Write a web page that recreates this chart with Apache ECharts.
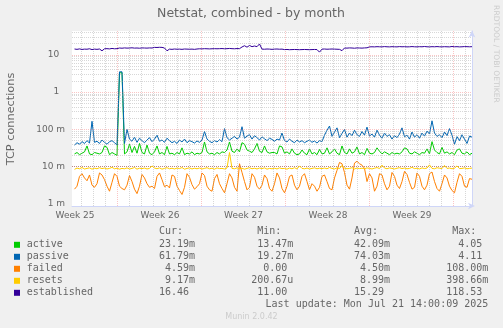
<!DOCTYPE html>
<html><head><meta charset="utf-8">
<script src="https://cdn.jsdelivr.net/npm/echarts@6/dist/echarts.min.js"></script>
<style>html,body{margin:0;padding:0;background:#f0f0f0}#c{width:503px;height:328px}</style>
</head><body><div id="c"></div>
<script>
// ---- time grid (hours relative to last update) ----
const hourStart = -795, hourStep = 5;
const weekLabels = ['Week 25', 'Week 26', 'Week 27', 'Week 28', 'Week 29'];
const weekLabelHours = [-794, -624, -457, -288, -120];
const weekGridHours = [-710, -542, -374, -206, -38];

// ---- y ticks ----
const yTickExp = [-3, -2, -1, 0, 1];
const yTickLabels = ['1 m', '10 m', '100 m', '1  ', '10  '];

// ---- series (milli-connections unless noted) ----
const activeMilli = [
22,24,21,23,25,36,22,21,24,23,
22,24,36,33,21,24,22,20,3300,3300,
22,25,40,24,35,23,42,24,22,38,
23,21,25,36,22,24,21,35,22,23,
21,24,22,32,21,23,22,25,21,23,
22,24,46,25,22,23,21,24,22,25,
24,28,46,26,24,30,25,44,40,28,
26,24,30,42,26,24,36,25,23,24,
24,22,36,34,23,25,22,30,23,21,
22,28,23,21,30,22,24,21,29,22,
23,32,22,25,30,23,21,36,24,22,
30,23,25,34,22,24,21,31,23,22,
24,32,26,22,25,23,21,24,22,23,
22,25,32,30,23,22,25,23,21,24,
23,30,22,47,28,24,22,33,23,25,
22,24,21,28,30,23,22,25,21,23];
const passiveMilli = [
38,44,40,47,42,50,43,165,45,48,
42,52,45,40,47,50,44,38,3500,3500,
42,100,55,48,62,45,58,50,44,52,
60,47,55,70,48,52,45,58,50,44,
48,42,52,46,55,44,50,47,43,49,
45,52,88,55,48,44,50,46,53,47,
105,60,52,58,65,55,62,118,58,66,
72,55,68,60,52,63,56,50,58,54,
48,55,52,80,50,46,55,48,44,52,
46,50,44,48,52,45,49,43,50,47,
70,95,123,65,85,110,60,78,100,62,
80,68,95,72,65,88,70,115,66,75,
62,95,70,58,80,65,72,55,68,60,
75,110,64,70,55,85,62,72,58,80,
66,90,75,170,80,65,72,60,85,68,
105,70,40,64,50,72,55,42,66,62];
const failedMilli = [
2.5,3.0,5.5,6.5,5.0,4.2,6.0,3.2,2.8,3.5,
6.8,6.0,4.5,3.0,2.2,3.8,6.5,5.5,3.0,2.6,
2.4,3.2,5.8,4.0,2.5,1.9,3.0,6.2,5.0,3.5,
2.8,3.0,2.6,5.5,6.8,4.5,2.9,3.2,2.7,6.0,
5.5,3.0,2.3,1.8,2.8,6.5,5.2,3.3,2.5,2.9,
3.5,6.8,5.8,3.0,2.4,2.2,4.8,6.2,3.5,2.6,
2.0,3.5,6.5,5.0,2.8,2.2,12.0,7.0,4.0,2.4,
2.8,6.5,5.2,3.0,2.5,3.2,6.0,4.8,2.6,2.2,
3.5,6.8,5.0,2.6,2.0,3.0,5.5,6.0,3.2,2.4,
3.0,5.5,6.5,4.0,2.4,3.5,3.0,2.2,2.8,5.5,
6.0,4.0,2.6,2.4,5.0,8.0,13.0,12.0,7.0,3.2,
2.5,5.0,12.5,14.0,12.0,11.0,9.0,4.0,6.5,5.0,
2.2,3.0,6.5,6.0,3.5,2.4,3.0,7.0,5.5,3.2,
2.6,4.0,7.5,6.2,3.8,2.5,2.8,6.8,5.5,3.0,
2.4,3.2,6.5,7.2,4.0,2.6,2.2,3.5,6.0,5.0,
3.0,2.3,2.0,3.8,6.5,5.5,3.0,2.8,4.8,4.6];
const resetsMilli = [
8.5,9.2,8.8,9.5,8.7,9.0,9.3,8.6,9.1,8.8,
9.4,8.9,9.2,8.7,9.0,9.6,8.8,9.1,8.6,9.0,
8.8,9.3,8.7,9.0,9.5,8.6,9.1,8.9,9.2,8.7,
9.0,10.5,9.2,8.8,9.3,8.6,9.0,9.4,8.8,9.1,
8.7,9.2,8.9,9.5,8.6,9.0,9.3,8.7,9.1,8.8,
9.2,8.7,9.0,9.4,8.8,9.1,8.6,9.3,8.9,9.0,
8.7,9.2,24,9.0,8.8,9.3,8.9,9.1,8.6,9.0,
9.4,8.8,9.1,8.7,9.2,8.9,9.3,8.6,9.0,8.8,
9.1,8.7,9.3,8.9,9.0,8.6,9.2,8.8,9.4,8.7,
10.5,9.0,8.8,9.2,8.7,9.0,9.3,8.8,9.1,8.9,
9.2,8.8,9.5,9.0,8.7,9.3,8.9,10.8,9.1,8.8,
9.0,9.4,8.7,9.2,8.9,9.1,8.8,9.3,9.0,8.7,
9.1,9.5,8.9,11.0,9.2,8.8,9.3,9.0,8.7,9.1,
9.4,8.9,9.2,8.8,9.0,9.6,8.9,9.1,8.7,9.3,
8.9,9.2,11.2,9.0,8.8,9.4,9.1,8.9,10.8,9.0,
9.2,8.8,9.1,10.5,8.9,9.0,9.3,8.8,9.0,9.2];
// established in connections
const established = [
14.3,14.0,14.4,13.9,14.2,14.1,14.5,13.8,14.2,14.0,
14.3,12.8,14.5,14.6,14.4,14.8,14.5,14.6,15.2,15.0,
15.3,15.1,15.2,15.4,15.1,15.2,15.0,15.3,15.2,15.1,
15.3,15.2,15.8,15.7,15.9,15.8,15.2,12.8,14.2,14.0,
14.3,14.1,14.2,14.0,14.3,14.2,14.1,14.2,14.0,14.3,
14.5,14.4,14.6,14.5,14.4,14.5,14.6,14.5,14.6,14.7,
14.5,14.6,14.8,14.6,14.5,14.7,14.6,16.2,17.5,16.0,
17.8,16.5,17.2,16.5,19.5,14.2,14.1,14.3,14.2,14.0,
14.2,14.3,14.1,14.2,13.8,13.9,13.7,13.8,13.9,13.8,
13.7,13.8,13.9,13.8,13.7,13.8,13.9,13.8,11.8,14.2,
14.3,14.1,14.2,14.3,14.2,14.1,14.0,12.9,15.2,15.1,
15.3,15.2,15.0,15.3,15.2,15.1,15.3,15.4,16.3,16.4,
16.3,16.5,16.4,16.3,16.6,16.4,16.3,16.5,16.4,16.3,
16.6,16.4,16.5,16.3,16.4,16.6,16.4,16.3,16.5,16.4,
16.7,16.4,16.3,16.5,16.4,16.6,16.4,16.3,16.5,16.4,
16.3,16.7,16.4,16.5,16.3,16.4,16.6,16.5,16.4,16.5];

// ---- legend table ----
const seriesNames = ['active', 'passive', 'failed', 'resets', 'established'];
const seriesColors = ['#00CC00', '#0066B3', '#FF8000', '#FFCC00', '#330099'];
const curText = ['23.19m', '61.79m', '4.59m', '9.17m', '16.46 '];
const minText = ['13.47m', '19.27m', '0.00 ', '200.67u', '11.00 '];
const avgText = ['42.09m', '74.03m', '4.50m', '8.99m', '15.29 '];
const maxText = ['4.05 ', '4.11 ', '108.00m', '398.66m', '118.53 '];
const lastUpdate = 'Last update: Mon Jul 21 14:00:09 2025';

const hours = activeMilli.map((_, i) => hourStart + i * hourStep);
const toData = (arr, k) => arr.map((v, i) => [hours[i], v * k]);
const seriesData = [
  toData(activeMilli, 0.001), toData(passiveMilli, 0.001), toData(failedMilli, 0.001),
  toData(resetsMilli, 0.001), toData(established, 1)
];

const yMin = 0.000884, yMax = 43.45;
const gridGray = {color: 'rgba(150,150,150,0.38)', type: [1, 1], width: 1};
const gridRed = {color: 'rgba(240,90,90,0.35)', type: [1, 1], width: 1};
const gridLines = [];
for (let k = -3; k <= 1; k++) {
  for (let m = 2; m <= 9; m++) {
    const v = m * Math.pow(10, k);
    if (v < yMax) gridLines.push({yAxis: v, lineStyle: gridGray});
  }
  gridLines.push({yAxis: Math.pow(10, k), lineStyle: gridRed});
}
for (let h = -782; h < 0; h += 24) {
  if (!weekGridHours.includes(h)) gridLines.push({xAxis: h, lineStyle: gridGray});
}
weekGridHours.forEach(h => gridLines.push({xAxis: h, lineStyle: gridRed}));

const mono = '"DejaVu Sans Mono", monospace';
const txtColor = '#666666';
const graphics = [];
graphics.push({type: 'text', x: 251, y: 13.5, style: {text: 'Netstat, combined - by month', font: '12.5px "DejaVu Sans"', fill: txtColor, textAlign: 'center', textVerticalAlign: 'middle'}});
graphics.push({type: 'text', x: 11, y: 119, rotation: Math.PI / 2, style: {text: 'TCP connections', font: '11.3px "DejaVu Sans"', fill: txtColor, textAlign: 'center', textVerticalAlign: 'middle'}});
graphics.push({type: 'text', x: 496, y: 54, rotation: -Math.PI / 2, style: {text: 'RRDTOOL / TOBI OETIKER', font: '7.6px "DejaVu Sans"', fill: '#cccccc', textAlign: 'center', textVerticalAlign: 'middle'}});
const colEnds = [195, 293.3, 390, 488.3];
const heads = ['Cur:', 'Min:', 'Avg:', 'Max:'];
heads.forEach((h, j) => graphics.push({type: 'text', x: colEnds[j] - 12, y: 231.7, style: {text: h, font: '10px ' + mono, fill: txtColor, textAlign: 'right', textVerticalAlign: 'middle'}}));
seriesNames.forEach((n, i) => {
  const y = 244.3 + 12 * i;
  graphics.push({type: 'rect', shape: {x: 14, y: y - 2.5, width: 6, height: 6}, style: {fill: seriesColors[i]}});
  graphics.push({type: 'text', x: 26.7, y: y, style: {text: n, font: '10px ' + mono, fill: txtColor, textAlign: 'left', textVerticalAlign: 'middle'}});
  [curText, minText, avgText, maxText].forEach((col, j) => {
    graphics.push({type: 'text', x: colEnds[j], y: y, style: {text: col[i], font: '10px ' + mono, fill: txtColor, textAlign: 'right', textVerticalAlign: 'middle'}});
  });
});
graphics.push({type: 'text', x: 488.3, y: 304.7, style: {text: lastUpdate, font: '10px ' + mono, fill: txtColor, textAlign: 'right', textVerticalAlign: 'middle'}});
graphics.push({type: 'text', x: 251.5, y: 317.3, style: {text: 'Munin 2.0.42', font: '8px "DejaVu Sans"', fill: '#cccccc', textAlign: 'center', textVerticalAlign: 'middle'}});

const axisColor = '#CFD6F8';
const chart = echarts.init(document.getElementById('c'), null, {renderer: 'canvas'});
chart.setOption({
  animation: false,
  backgroundColor: '#F0F0F0',
  grid: {left: 72, right: 31, top: 31, bottom: 122, show: true, backgroundColor: '#FFFFFF', borderWidth: 0},
  xAxis: {
    type: 'value', min: -800, max: 0,
    axisLine: {show: true, lineStyle: {color: axisColor, width: 1}, symbol: ['none', 'arrow'], symbolSize: [5, 7], symbolOffset: [0, 3]},
    axisTick: {show: false},
    splitLine: {show: false},
    axisLabel: {
      customValues: weekLabelHours, margin: 5, color: txtColor, fontSize: 9, fontFamily: 'DejaVu Sans',
      formatter: v => { const k = weekLabelHours.indexOf(v); return k >= 0 ? weekLabels[k] : ''; }
    }
  },
  yAxis: {
    type: 'log', logBase: 10, min: yMin, max: yMax,
    axisLine: {show: true, lineStyle: {color: axisColor, width: 1}, symbol: ['none', 'arrow'], symbolSize: [5, 7], symbolOffset: [0, 0.5]},
    axisTick: {show: false},
    splitLine: {show: false},
    axisLabel: {
      margin: 7, color: txtColor, fontSize: 9, fontFamily: 'DejaVu Sans',
      formatter: v => {
        const e = Math.log10(v), r = Math.round(e);
        if (Math.abs(e - r) > 1e-6) return '';
        const k = yTickExp.indexOf(r);
        return k >= 0 ? yTickLabels[k] : '';
      }
    }
  },
  graphic: graphics,
  series: [
    {type: 'line', data: [], z: 1, silent: true,
     markLine: {silent: true, symbol: ['none', 'none'], label: {show: false}, emphasis: {disabled: true}, data: gridLines}}
  ].concat(seriesNames.map((n, i) => ({
    name: n, type: 'line', data: seriesData[i], z: 2 + i,
    showSymbol: false, symbol: 'none', silent: true,
    lineStyle: {color: seriesColors[i], width: 1}
  })))
});
</script></body></html>
